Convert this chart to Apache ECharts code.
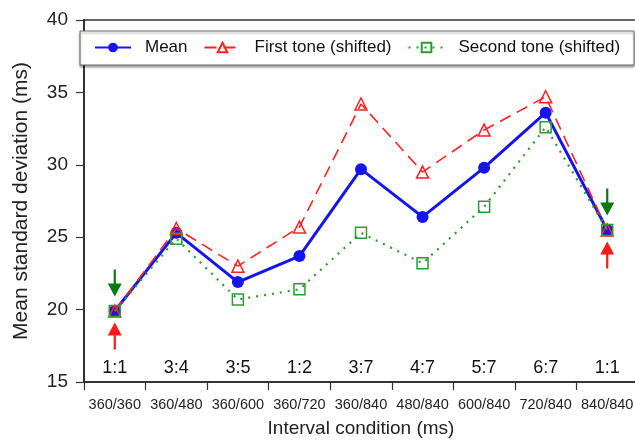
<!DOCTYPE html>
<html>
<head>
<meta charset="utf-8">
<script src="https://cdn.jsdelivr.net/npm/echarts@6/dist/echarts.min.js"></script>
<style>html,body{margin:0;padding:0;background:#fff}#c{width:635px;height:440px}</style>
</head>
<body>
<div id="c"></div>
<script>
const categories = ['360/360','360/480','360/600','360/720','360/840','480/840','600/840','720/840','840/840'];
const ratios = ['1:1','3:4','3:5','1:2','3:7','4:7','5:7','6:7','1:1'];
const meanValues = [19.9, 25.3, 21.9, 23.7, 29.7, 26.4, 29.8, 33.6, 25.5];
const firstToneValues = [19.9, 25.6, 23.0, 25.7, 34.2, 29.5, 32.4, 34.7, 25.5];
const secondToneValues = [19.9, 24.9, 20.7, 21.4, 25.3, 23.2, 27.1, 32.6, 25.5];
const arrowCategories = ['360/360', '840/840'];
const yTicks = [15, 20, 25, 30, 35, 40];

const FONT = 'Liberation Sans, Arial, Helvetica, sans-serif';
const arrowPath = 'path://M0,0 L7,13 L1.1,13 L1.1,27 L-1.1,27 L-1.1,13 L-7,13 Z';

const arrowMarks = [];
arrowCategories.forEach(cat => {
  const v = meanValues[categories.indexOf(cat)];
  arrowMarks.push({coord: [cat, v], symbol: arrowPath, symbolSize: [14, 27], symbolOffset: [0, 25], itemStyle: {color: '#ff1a1a'}});
  arrowMarks.push({coord: [cat, v], symbol: arrowPath, symbolSize: [14, 27], symbolRotate: 180, symbolOffset: [0, -28], itemStyle: {color: '#0b7a12'}});
});

const chart = echarts.init(document.getElementById('c'), null, {renderer: 'canvas'});
chart.setOption({
  animation: false,
  textStyle: {fontFamily: FONT},
  grid: {left: 84, top: 20, right: -3, bottom: 58, containLabel: false, outerBoundsMode: 'none',
         show: true, borderColor: '#333', borderWidth: 1.5, backgroundColor: 'transparent'},
  legend: {
    left: 80, top: 31,
    padding: [8, 14, 9, 14],
    itemWidth: 36, itemHeight: 12, itemGap: 16,
    backgroundColor: '#fff', borderColor: '#666', borderWidth: 1,
    shadowColor: 'rgba(0,0,0,0.35)', shadowOffsetY: 2, shadowBlur: 2,
    formatter: '{a|{name}}',
    textStyle: {fontFamily: FONT, fontSize: 17, color: '#111', rich: {a: {fontFamily: FONT, fontSize: 17, color: '#111', padding: [0, 0, 0, 9]}}},
    data: ['Mean', 'First tone (shifted)', 'Second tone (shifted)']
  },
  xAxis: [{
    type: 'category', data: categories, position: 'bottom',
    name: 'Interval condition (ms)', nameLocation: 'middle', nameGap: 37,
    nameTextStyle: {fontFamily: FONT, fontSize: 19, color: '#222'},
    axisLine: {lineStyle: {color: '#333', width: 2}},
    axisTick: {show: true, length: 8, lineStyle: {color: '#333', width: 1.2}},
    axisLabel: {fontFamily: FONT, fontSize: 14.5, color: '#222', margin: 15, interval: 0},
    splitLine: {show: false}
  }, {
    type: 'category', data: ratios, position: 'bottom',
    axisLine: {show: false}, axisTick: {show: false},
    axisLabel: {inside: true, fontFamily: FONT, fontSize: 18, color: '#111', margin: 5, interval: 0},
    splitLine: {show: false}
  }],
  yAxis: {
    type: 'value', min: yTicks[0], max: yTicks[yTicks.length - 1], interval: 5,
    name: 'Mean standard deviation (ms)', nameLocation: 'middle', nameGap: 52, nameRotate: 90,
    nameTextStyle: {fontFamily: FONT, fontSize: 21, color: '#222'},
    axisLine: {show: true, lineStyle: {color: '#333', width: 2}},
    axisTick: {show: true, length: 8, lineStyle: {color: '#333', width: 1.2}},
    axisLabel: {fontFamily: FONT, fontSize: 19, color: '#222', margin: 16},
    splitLine: {show: false}
  },
  series: [{
    name: 'Mean', type: 'line', data: meanValues, xAxisIndex: 0,
    symbol: 'circle', symbolSize: 12, z: 3,
    lineStyle: {color: '#1414f0', width: 3},
    itemStyle: {color: '#1414f0', borderColor: '#1414f0', borderWidth: 0},
    markPoint: {data: arrowMarks, label: {show: false}, silent: true}
  }, {
    name: 'First tone (shifted)', type: 'line', data: firstToneValues, xAxisIndex: 0,
    symbol: 'triangle', symbolSize: 12, z: 4,
    lineStyle: {color: '#ff2222', width: 1.6, type: [12, 7]},
    itemStyle: {color: 'rgba(255,255,255,0)', borderColor: '#ff2222', borderWidth: 1.5}
  }, {
    name: 'Second tone (shifted)', type: 'line', data: secondToneValues, xAxisIndex: 0,
    symbol: 'rect', symbolSize: 11, z: 5,
    lineStyle: {color: '#2e9a32', width: 2.2, type: [2, 6]},
    itemStyle: {color: 'rgba(255,255,255,0)', borderColor: '#2e9a32', borderWidth: 1.5}
  }]
});
</script>
</body>
</html>
